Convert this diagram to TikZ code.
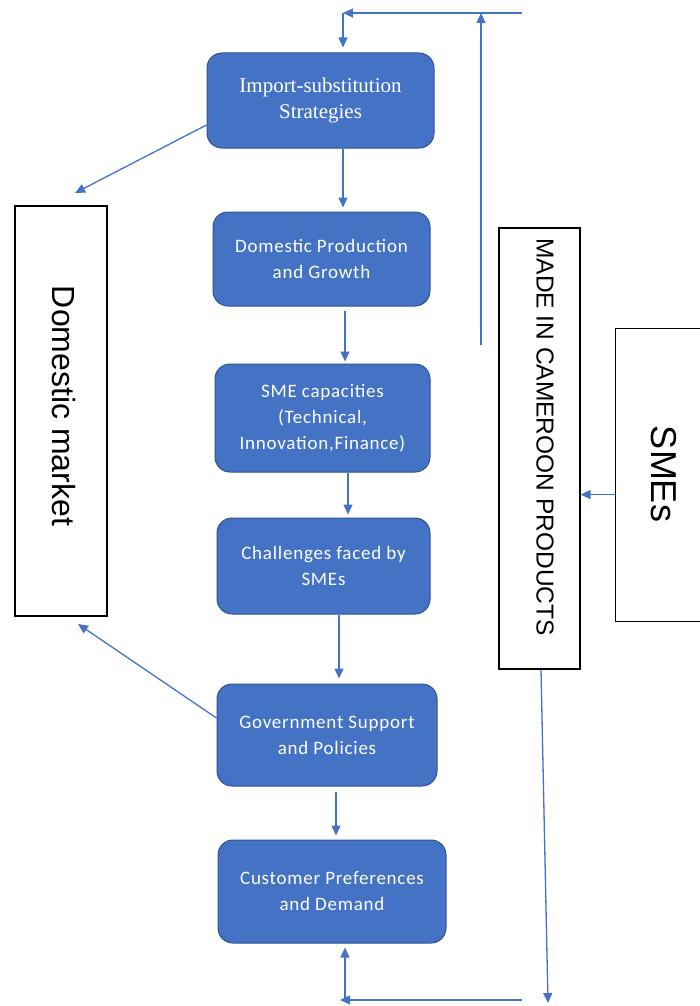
\documentclass[tikz,border=0pt]{standalone}
\usepackage{fontspec}
\setmainfont{Liberation Sans}
\newfontfamily\boxfont[LetterSpace=4]{Carlito}
\newfontfamily\impfont{Liberation Serif}
\usetikzlibrary{arrows.meta,positioning}
\definecolor{boxblue}{HTML}{4472C4}
\definecolor{boxedge}{HTML}{2F528F}
\definecolor{arrblue}{HTML}{4472C4}
\tikzset{
  bluebox/.style={draw=boxedge, line width=1pt, fill=boxblue, rounded corners=15pt,
    text=white, align=center, inner sep=0pt, font=\boxfont\fontsize{19}{26}\selectfont},
  plainbox/.style={draw=black, line width=1.2pt, fill=white, inner sep=0pt},
  arr/.style={draw=arrblue, line width=1.3pt, -{Triangle[length=10pt,width=9pt]}},
  vtext/.style={rotate=-90, inner sep=0pt, anchor=center}
}
\begin{document}
\begin{tikzpicture}[x=1pt,y=-1pt]
\useasboundingbox (0,0) rectangle (699,1006);
% blue boxes
\node[bluebox, minimum width=227pt, minimum height=95pt, font=\impfont\fontsize{21}{26}\selectfont] (imp) at (320.5,100.5) {Import-substitution\\Strategies};
\node[bluebox, minimum width=217pt, minimum height=94pt] (dp) at (321.5,259) {Domestic Production\\and Growth};
\node[bluebox, minimum width=215pt, minimum height=108pt] (sme) at (322.5,418) {SME capacities\\(Technical,\\Innovation,Finance)};
\node[bluebox, minimum width=213pt, minimum height=96pt] (ch) at (323.5,566) {Challenges faced by\\SMEs};
\node[bluebox, minimum width=220pt, minimum height=102pt] (gov) at (327,735) {Government Support\\and Policies};
\node[bluebox, minimum width=228pt, minimum height=103pt] (cust) at (332,891.5) {Customer Preferences\\and Demand};
% plain boxes
\node[plainbox, minimum width=92pt, minimum height=410pt] (dm) at (61,411) {};
\node[vtext, font=\fontsize{32}{32}\selectfont] (dmt) at (64,406) {Domestic market};
\node[plainbox, minimum width=81pt, minimum height=441pt] (mic) at (539.5,448.5) {};
\node[vtext, font=\fontsize{24.5}{24.5}\selectfont] (mict) at (545,437) {MADE IN CAMEROON PRODUCTS};
\node[plainbox, minimum width=100pt, minimum height=293pt, anchor=north west] (smes) at (615,328) {};
\node[vtext, font=\fontsize{36}{36}\selectfont] (smest) at (664,474) {SMEs};
% coordinates for free ends
\coordinate (tr) at (522,13);
\coordinate (tl) at (343,13);
\coordinate (tv) at (481,13);
\coordinate (tvb) at (481,345);
\coordinate (br) at (522,1000);
\coordinate (bl) at (340,1000);
\coordinate (bv) at (345,1000);
\coordinate (mb) at (548,1003);
\coordinate (dmtop) at (75,193);
\coordinate (dmbot) at (78,624);
\coordinate (sa) at ([yshift=-19.5pt]smes.west);
% top feedback
\draw[arr] (tr) -- (tl);
\draw[arr] (tl) -- ([xshift=22.5pt,yshift=5pt]imp.north);
\draw[arr] (tvb) -- (tv);
% main chain
\draw[arr] ([xshift=22.5pt]imp.south) -- ([xshift=21.5pt,yshift=4pt]dp.north);
\draw[arr] ([xshift=23.5pt,yshift=-4pt]dp.south) -- ([xshift=22.5pt,yshift=2pt]sme.north);
\draw[arr] ([xshift=25.5pt]sme.south) -- ([xshift=24.5pt,yshift=3pt]ch.north);
\draw[arr] ([xshift=15.5pt]ch.south) -- ([xshift=12pt,yshift=5pt]gov.north);
\draw[arr] ([xshift=9pt,yshift=-5pt]gov.south) -- ([xshift=4pt,yshift=4pt]cust.north);
% to domestic market
\draw[arr] ([yshift=-24.5pt]imp.west) -- (dmtop);
\draw[arr] ([yshift=17pt]gov.west) -- (dmbot);
% SMEs to made in cameroon
\draw[arr] (sa) -- (sa -| mic.east);
% bottom feedback
\draw[arr] ([xshift=1.5pt]mic.south) -- (mb);
\draw[arr] (br) -- (bl);
\draw[arr] (bv) -- ([xshift=13pt,yshift=-4pt]cust.south);
\end{tikzpicture}
\end{document}
